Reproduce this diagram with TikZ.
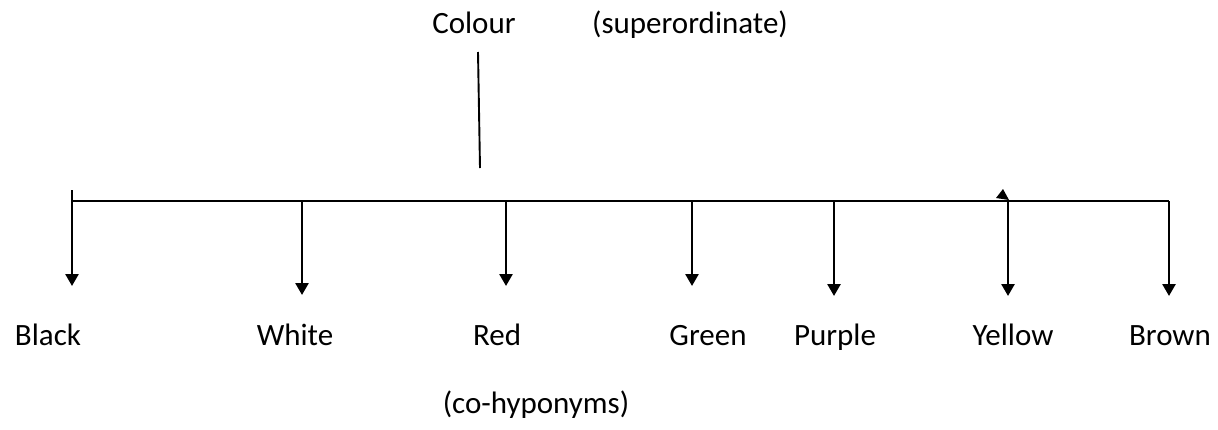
\documentclass[tikz,border=0pt]{standalone}
\usepackage{fontspec}
\setmainfont{Carlito}
\usetikzlibrary{arrows.meta}
\begin{document}
\begin{tikzpicture}[x=1pt,y=-1pt,
  label/.style={inner sep=0pt,anchor=base,font=\fontsize{31}{37}\selectfont},
  bus/.style={line width=2.6pt},
  drop/.style={line width=2.6pt,-{Triangle[length=12pt,width=13pt]}}]
  \useasboundingbox (0,0) rectangle (1218,429);

  % superordinate term
  \node[label] (colour) at (474,33) {Colour};
  \node[label] (super) at (690,33) {(superordinate)};
  \coordinate (stemtop) at (478,52);
  \coordinate (stembot) at (480,168);
  \draw[line width=1.9pt] (stemtop) -- (stembot);

  % horizontal bus
  \coordinate (busL) at (72,201);
  \coordinate (busR) at (1169,201);
  \draw[bus] (busL) -- (busR);

  % co-hyponyms
  \foreach \name/\x/\lx/\tip in {Black/72/48/286, White/302/295/295, Red/506/497/286,
      Green/692/708/286, Purple/834/835/296, Yellow/1008/1013/296, Brown/1169/1170/296}{
    \node[label] (\name) at (\lx,345) {\name};
    \coordinate (top\name) at (\x,201);
    \coordinate (tip\name) at (\x,\tip);
    \draw[drop] (top\name) -- (tip\name);
  }
  \coordinate (blackup) at (72,190);
  \draw[bus] (blackup) -- (topBlack);

  % small stray tip on the bus
  \fill (996,198) -- (1003,189) -- (1009,200) -- cycle;

  \node[label] (cohyp) at (536,413) {(co-hyponyms)};
\end{tikzpicture}
\end{document}
